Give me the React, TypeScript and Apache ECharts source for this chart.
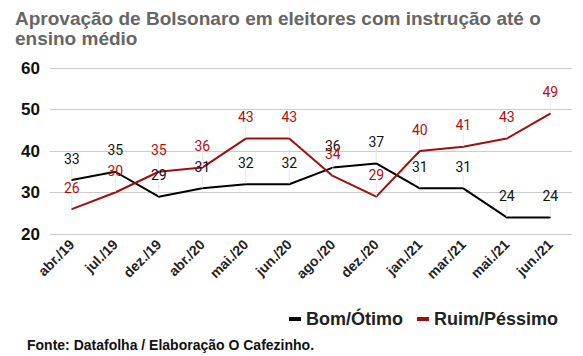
import React, { useEffect, useRef } from "react";
import * as echarts from "echarts";

const categories = ["abr./19", "jul./19", "dez./19", "abr./20", "mai./20", "jun./20", "ago./20", "dez./20", "jan./21", "mar./21", "mai./21", "jun./21"];
const bomOtimo = [33, 35, 29, 31, 32, 32, 36, 37, 31, 31, 24, 24];
const ruimPessimo = [26, 30, 35, 36, 43, 43, 34, 29, 40, 41, 43, 49];
const yTicks = { min: 20, max: 60, interval: 10 };

const BLACK = "#000000";
const RED = "#a30d0d";

export default function App() {
  const ref = useRef<HTMLDivElement>(null);
  useEffect(() => {
    if (!ref.current) return;
    const chart = echarts.init(ref.current, undefined, { renderer: "svg" });
    const mkSeries = (name: string, data: number[], color: string) => ({
      name,
      type: "line",
      data,
      symbol: "circle",
      symbolSize: 1,
      showSymbol: true,
      lineStyle: { color, width: 2 },
      itemStyle: { color },
      label: {
        show: true,
        position: "top",
        distance: 5,
        color: color === BLACK ? "#111" : "#b01010",
        fontFamily: "Roboto",
        fontSize: 14,
      },
      labelLayout: { dy: -9 },
      labelLine: { show: true, lineStyle: { color: "#e6e6e6", width: 1 } },
    });
    chart.setOption({
      animation: false,
      title: {
        text: "Aprovação de Bolsonaro em eleitores com instrução até o\nensino médio",
        left: 10,
        top: 3,
        textStyle: {
          fontFamily: "Liberation Sans",
          fontSize: 19,
          fontWeight: "bold",
          color: "#666666",
          lineHeight: 20,
        },
      },
      legend: {
        right: 20,
        top: 305,
        icon: "rect",
        itemWidth: 12,
        itemHeight: 4,
        itemGap: 14,
        textStyle: {
          fontFamily: "Liberation Sans",
          fontSize: 18,
          fontWeight: "bold",
          color: "#222",
        },
        data: ["Bom/Ótimo", "Ruim/Péssimo"],
      },
      graphic: [
        {
          type: "text",
          left: 27,
          top: 338,
          style: {
            text: "Fonte: Datafolha / Elaboração O Cafezinho.",
            font: "bold 14px 'Liberation Sans'",
            fill: "#111",
          },
        },
      ],
      grid: { left: 50, right: 11, top: 68, bottom: 122, containLabel: false },
      xAxis: {
        type: "category",
        data: categories,
        boundaryGap: true,
        axisLine: { show: false },
        axisTick: { show: false },
        axisLabel: {
          rotate: 45,
          interval: 0,
          margin: 8,
          fontFamily: "Liberation Sans",
          fontSize: 14,
          fontWeight: "bold",
          color: "#222",
        },
      },
      yAxis: {
        type: "value",
        min: yTicks.min,
        max: yTicks.max,
        interval: yTicks.interval,
        axisLine: { show: false },
        axisTick: { show: false },
        splitLine: { lineStyle: { color: "#cccccc", width: 1 } },
        axisLabel: {
          margin: 10,
          fontFamily: "Liberation Sans",
          fontSize: 17,
          fontWeight: "bold",
          color: "#111",
        },
      },
      series: [
        mkSeries("Bom/Ótimo", bomOtimo, BLACK),
        mkSeries("Ruim/Péssimo", ruimPessimo, RED),
      ],
    });
    return () => chart.dispose();
  }, []);
  return <div ref={ref} style={{ width: 583, height: 356, position: "absolute", left: 0, top: 0 }} />;
}
